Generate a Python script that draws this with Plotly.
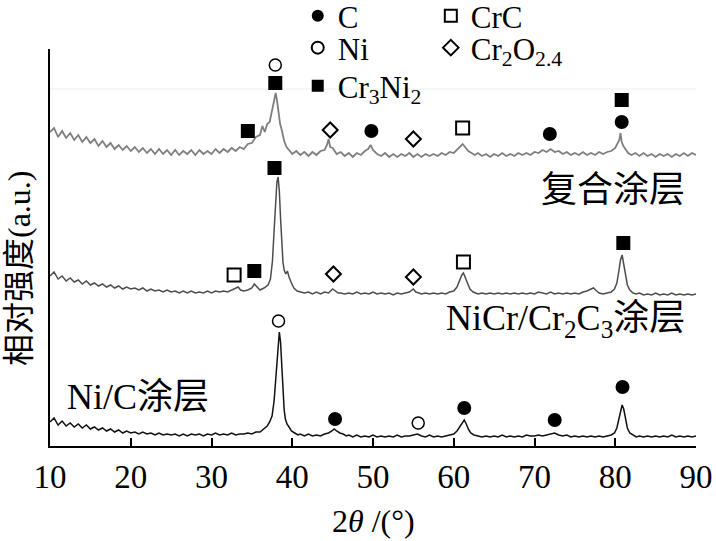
import plotly.graph_objects as go

# ---------------- data (2theta in degrees, intensity in a.u., patterns stacked) ----------------
composite_pts = [
    (10,314),(10.5,318),(11,309),(11.5,315),(12,308),(12.5,313),(13,306),(13.5,311),(14,304),(14.5,309),
    (15,303),(15.5,307),(16,300),(16.5,305),(17,299),(17.5,303),(18,297),(18.5,301),(19,296),(19.5,300),
    (20,295),(20.5,299),(21,294),(21.5,298),(22,293),(22.5,297),(23,292),(23.5,297),(24,292),(24.5,296),
    (25,291),(25.5,296),(26,291),(26.5,295),(27,292),(27.5,296),(28,291),(28.5,296),(29,292),(29.5,295),
    (30,292),(30.5,297),(31,293),(31.5,297),(32,294),(32.5,298),(33,295),(33.5,299),(34,297),(34.5,302),
    (35,303),(35.5,309),(36,311),(36.3,320),(36.6,314),(36.9,322),(37.2,324),(37.4,332),(37.6,340),(37.8,350),
    (37.95,353),(38.1,346),(38.3,333),(38.5,322),(38.7,316),(39.0,305),(39.3,299),(39.6,296),(40,292),(40.5,295),
    (41,291),(41.5,294),(42,290),(42.5,294),(43,291),(43.5,295),(44,296),(44.3,301),(44.5,307),(44.7,299),
    (45,298),(45.5,292),(46,294),(46.5,290),(47,293),(47.5,289),(48,293),(48.5,291),(49,295),(49.4,297),
    (49.7,301),(50,296),(50.5,292),(51,290),(51.5,293),(52,289),(52.5,292),(53,289),(53.5,292),(54,290),
    (54.5,293),(55,289),(55.5,292),(56,289),(56.5,292),(57,290),(57.5,292),(58,290),(58.5,293),(59,291),
    (59.5,294),(60,293),(60.5,297),(60.8,300),(61.1,302),(61.4,299),(61.8,295),(62.2,293),(62.6,291),(63,293),
    (63.5,290),(64,292),(64.5,289),(65,292),(65.5,290),(66,293),(66.5,290),(67,292),(67.5,290),(68,293),
    (68.5,291),(69,293),(69.5,291),(70,294),(70.5,293),(71,296),(71.5,294),(72,297),(72.5,294),(73,295),
    (73.5,292),(74,294),(74.5,291),(75,293),(75.5,291),(76,294),(76.5,291),(77,293),(77.5,291),(78,294),
    (78.5,292),(79,294),(79.5,295),(80,298),(80.3,302),(80.5,306),(80.65,313),(80.8,304),(81.0,300),(81.3,296),
    (81.6,293),(82,291),(82.5,293),(83,290),(83.5,293),(84,290),(84.5,292),(85,289),(85.5,292),(86,290),
    (86.5,292),(87,289),(87.5,292),(88,290),(88.5,293),(89,290),(89.5,293),(90,291),
]

nicr_pts = [
    (10,170),(10.5,174),(11,167),(11.5,170),(12,165),(12.5,168),(13,164),(13.5,166),(14,162),(14.5,165),
    (15,161),(15.5,163),(16,160),(16.5,162),(17,159),(17.5,161),(18,158),(18.5,160),(19,157),(19.5,159),
    (20,157),(20.5,158),(21,156),(21.5,158),(22,155),(22.5,157),(23,155),(23.5,156),(24,154),(24.5,156),
    (25,154),(25.5,155),(26,153),(26.5,155),(27,153),(27.5,155),(28,153),(28.5,154),(29,153),(29.5,155),
    (30,153),(30.5,155),(31,154),(31.5,155),(32,154),(32.5,156),(33,158),(33.3,159),(33.6,156),(34,155),
    (34.5,156),(35,158),(35.3,162),(35.6,159),(36,156),(36.5,158),(37,161),(37.3,167),(37.55,185),(37.75,215),
    (37.95,248),(38.1,264),(38.25,269),(38.4,255),(38.55,228),(38.7,200),(38.85,184),(39.0,176),(39.2,172),(39.4,175),
    (39.6,169),(39.9,163),(40.2,158),(40.6,155),(41,154),(41.5,153),(42,154),(42.5,152),(43,154),(43.5,152),
    (44,154),(44.5,153),(45,157),(45.3,155),(45.7,153),(46,153),(46.5,152),(47,153),(47.5,152),(48,154),
    (48.5,152),(49,153),(49.5,152),(50,154),(50.5,152),(51,153),(51.5,152),(52,153),(52.5,151),(53,153),
    (53.5,152),(54,153),(54.5,154),(55,157),(55.3,154),(55.7,153),(56,152),(56.5,153),(57,152),(57.5,153),
    (58,152),(58.5,153),(59,152),(59.5,154),(60,155),(60.4,159),(60.7,165),(61.0,171),(61.2,173),(61.45,168),
    (61.7,161),(62.0,157),(62.4,154),(62.8,153),(63,152),(63.5,153),(64,152),(64.5,153),(65,152),(65.5,153),
    (66,152),(66.5,153),(67,152),(67.5,153),(68,152),(68.5,153),(69,152),(69.5,153),(70,152),(70.5,154),
    (71,153),(71.5,152),(72,154),(72.5,152),(73,153),(73.5,152),(74,153),(74.5,152),(75,153),(75.5,152),
    (76,154),(76.5,155),(77,157),(77.3,158),(77.7,155),(78,153),(78.5,152),(79,153),(79.5,154),(79.9,157),
    (80.2,163),(80.45,175),(80.65,186),(80.85,191),(81.05,182),(81.25,170),(81.5,161),(81.8,156),(82.2,153),(82.6,152),
    (83,153),(83.5,151),(84,152),(84.5,151),(85,153),(85.5,151),(86,152),(86.5,151),(87,153),(87.5,151),
    (88,152),(88.5,151),(89,152),(89.5,151),(90,152),
]

nic_pts = [
    (10,24),(10.5,28),(11,21),(11.5,25),(12,20),(12.5,23),(13,19),(13.5,22),(14,18),(14.5,21),
    (15,17),(15.5,19),(16,16),(16.5,18),(17,15),(17.5,17),(18,14),(18.5,16),(19,13),(19.5,15),
    (20,13),(20.5,14),(21,12),(21.5,14),(22,12),(22.5,13),(23,11),(23.5,13),(24,11),(24.5,12),
    (25,11),(25.5,12),(26,10),(26.5,12),(27,10),(27.5,12),(28,11),(28.5,12),(29,10),(29.5,12),
    (30,11),(30.5,13),(31,11),(31.5,12),(32,11),(32.5,13),(33,11),(33.5,12),(34,12),(34.5,13),
    (35,12),(35.5,14),(36,14),(36.5,17),(36.9,20),(37.2,24),(37.5,30),(37.75,45),(37.95,68),(38.1,90),
    (38.25,106),(38.4,114),(38.55,104),(38.7,80),(38.85,55),(39.0,36),(39.15,27),(39.35,22),(39.6,19),(39.9,15),
    (40.3,13),(40.7,11),(41,12),(41.5,10),(42,12),(42.5,10),(43,11),(43.5,10),(44,12),(44.5,13),
    (44.9,15),(45.2,17),(45.5,15),(45.9,13),(46.3,12),(46.7,10),(47,11),(47.5,9),(48,11),(48.5,9),
    (49,10),(49.5,9),(50,11),(50.5,9),(51,10),(51.5,9),(52,10),(52.5,9),(53,11),(53.5,9),
    (54,10),(54.5,10),(55,11),(55.5,12),(56,10),(56.5,9),(57,11),(57.5,9),(58,10),(58.5,9),
    (59,10),(59.5,11),(60,12),(60.4,15),(60.8,20),(61.1,24),(61.3,26),(61.55,22),(61.8,17),(62.1,13),
    (62.5,11),(63,10),(63.5,9),(64,10),(64.5,9),(65,10),(65.5,9),(66,11),(66.5,9),(67,10),
    (67.5,9),(68,10),(68.5,9),(69,11),(69.5,10),(70,10),(70.5,11),(71,10),(71.5,11),(72,12),
    (72.5,13),(73,11),(73.5,10),(74,11),(74.5,9),(75,10),(75.5,9),(76,10),(76.5,9),(77,10),
    (77.5,9),(78,10),(78.5,9),(79,10),(79.5,11),(79.9,13),(80.2,18),(80.45,27),(80.65,36),(80.85,41),
    (81.05,37),(81.25,27),(81.5,18),(81.8,13),(82.2,11),(82.6,9),(83,10),(83.5,9),(84,10),(84.5,9),
    (85,10),(85.5,9),(86,10),(86.5,9),(87,11),(87.5,9),(88,10),(88.5,9),(89,10),(89.5,9),(90,10),
]

# phase identification marks (2theta, height of the mark above the pattern)
C_x       = [49.8, 71.9, 80.8, 45.3, 61.3, 72.5, 80.9]
C_y       = [315, 312, 324, 27, 38, 26, 59]
CrC_x     = [61.1, 32.8, 61.2]
CrC_y     = [318, 171, 184]
Ni_x      = [37.9, 38.3, 55.6]
Ni_y      = [381, 125, 23]
Cr2O_x    = [44.7, 55.0, 45.1, 55.0]
Cr2O_y    = [316, 307, 172, 169]
Cr3Ni2_x  = [34.5, 37.9, 80.8, 35.3, 37.8, 81.0]
Cr3Ni2_y  = [315, 363, 346, 175, 278, 203]

x_ticks = [10, 20, 30, 40, 50, 60, 70, 80, 90]

SERIF = "Liberation Serif, Times New Roman, Noto Sans CJK SC, serif"
MIX = "Liberation Serif, Noto Sans CJK SC, serif"

TOP, BOTTOM = 49, 446          # plot-area edges in px
H = BOTTOM - TOP

fig = go.Figure()

def add_curve(pts, color, width):
    fig.add_trace(go.Scatter(x=[p[0] for p in pts], y=[p[1] for p in pts], mode="lines",
                             line=dict(color=color, width=width), showlegend=False,
                             hoverinfo="skip"))

add_curve(composite_pts, "#7f7f7f", 1.8)
add_curve(nicr_pts, "#4d4d4d", 1.5)
add_curve(nic_pts, "#111111", 1.5)

def add_phase(x, y, name, symbol, size, legend, lw=0):
    fig.add_trace(go.Scatter(x=x, y=y, mode="markers", name=name, legend=legend,
                             marker=dict(symbol=symbol, size=size, color="black",
                                         line=dict(color="black", width=lw)),
                             cliponaxis=False))

add_phase(C_x, C_y, "C", "circle", 14, "legend")
add_phase(CrC_x, CrC_y, "CrC", "square-open", 13, "legend2", 2)
add_phase(Ni_x, Ni_y, "Ni", "circle-open", 12, "legend3", 1.5)
add_phase(Cr2O_x, Cr2O_y, "Cr<sub>2</sub>O<sub>2.4</sub>", "diamond-open", 11.5, "legend4", 2)
add_phase(Cr3Ni2_x, Cr3Ni2_y, "Cr<sub>3</sub>Ni<sub>2</sub>", "square", 14, "legend5")

def py(px):
    return (BOTTOM - px) / H

def leg(x, ypx):
    return dict(x=x, y=py(ypx), xanchor="left", yanchor="middle", bgcolor="rgba(0,0,0,0)",
                borderwidth=0, itemsizing="constant",
                font=dict(family=SERIF, size=31, color="black"))

LX1, LX2 = 0.3835, 0.5895

fig.update_layout(
    width=716, height=541,
    margin=dict(l=50, r=20, t=TOP, b=541 - BOTTOM, autoexpand=False),
    plot_bgcolor="white", paper_bgcolor="white",
    legend=leg(LX1, 16),
    legend2=leg(LX2, 16),
    legend3=leg(LX1, 48),
    legend4=leg(LX2, 48),
    legend5=leg(LX1, 86),
    xaxis=dict(range=[10, 90], tickvals=x_ticks, ticks="inside", ticklen=8, tickwidth=1.5,
               tickcolor="black", showline=True, linecolor="black", linewidth=2,
               showgrid=False, zeroline=False, ticklabelstandoff=0,
               tickfont=dict(family=SERIF, size=33, color="black")),
    yaxis=dict(range=[0, 397], tickvals=[397], ticks="inside",
               ticklen=10, tickwidth=2, tickcolor="black", showticklabels=False,
               showline=True, linecolor="black", linewidth=2, showgrid=False, zeroline=False),
    shapes=[
        dict(type="line", xref="x", yref="y", x0=10, x1=90.1, y0=357, y1=357,
             line=dict(color="#eeeeee", width=1), layer="below"),
        dict(type="line", xref="x", yref="y", x0=90.1, x1=90.1, y0=0, y1=357,
             line=dict(color="#eeeeee", width=1), layer="below"),
    ],
    annotations=[
        dict(text="复合涂层", x=88.9, y=256, xref="x", yref="y", xanchor="right", yanchor="middle",
             showarrow=False, font=dict(family=MIX, size=36, color="black")),
        dict(text="NiCr/Cr<sub>2</sub>C<sub>3</sub>涂层", x=88.9, y=126, xref="x", yref="y",
             xanchor="right", yanchor="middle", showarrow=False,
             font=dict(family=MIX, size=36, color="black")),
        dict(text="Ni/C涂层", x=11.9, y=49, xref="x", yref="y", xanchor="left", yanchor="middle",
             showarrow=False, font=dict(family=MIX, size=36, color="black")),
        dict(text="相对强度(a.u.)", x=(19 - 50) / 646, y=py(268), xref="paper", yref="paper",
             textangle=-90, xanchor="center", yanchor="middle", showarrow=False,
             font=dict(family=MIX, size=32, color="black")),
        dict(text="2<i>θ</i> /(°)", x=0.5, y=py(521), xref="paper", yref="paper",
             xanchor="center", yanchor="middle", showarrow=False,
             font=dict(family=SERIF, size=32, color="black")),
    ],
)

fig.write_html("out.html", config={"displayModeBar": False},
               post_script="document.body.style.margin='0';")
